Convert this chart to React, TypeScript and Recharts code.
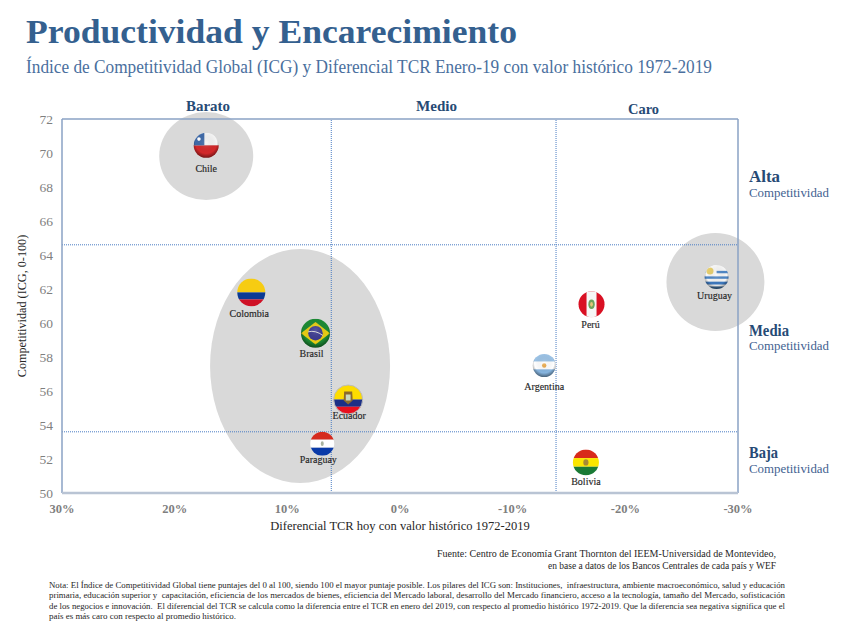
import React from 'react';
import { ScatterChart, Scatter, XAxis, YAxis } from 'recharts';

const countries = ['Chile', 'Colombia', 'Brasil', 'Ecuador', 'Paraguay', 'Argentina', 'Perú', 'Bolivia', 'Uruguay'];
const tcrValues = [17.2, 13.2, 7.5, 4.6, 6.9, -12.8, -17.0, -16.5, -28.1];
const icgValues = [70.45, 61.8, 59.4, 55.5, 52.9, 57.5, 61.1, 51.8, 62.7];

const groupNames = ['Chile', 'Grupo', 'Uruguay'];
const groupX = [17.2, 8.87, -28.0];
const groupY = [69.82, 57.47, 62.41];

const xTicks = [30, 20, 10, 0, -10, -20, -30];
const yTicks = [50, 52, 54, 56, 58, 60, 62, 64, 66, 68, 70, 72];
const tcrCuts = [6.1, -13.85];
const icgCuts = [64.6, 53.6];
const xEdges = [30, -30];
const yEdges = [50, 72];

const noteLines = [
  'Nota: El Índice de Competitividad Global tiene puntajes del 0 al 100, siendo 100 el mayor puntaje posible. Los pilares del ICG son: Instituciones,  infraestructura, ambiente macroeconómico, salud y educación',
  'primaria, educación superior y  capacitación, eficiencia de los mercados de bienes, eficiencia del Mercado laboral, desarrollo del Mercado financiero, acceso a la tecnología, tamaño del Mercado, sofisticación',
  'de los negocios e innovación.  El diferencial del TCR se calcula como la diferencia entre el TCR en enero del 2019, con respecto al promedio histórico 1972-2019. Que la diferencia sea negativa significa que el',
  'país es más caro con respecto al promedio histórico.',
];

const flagData = countries.map((name, i) => ({ name, x: tcrValues[i], y: icgValues[i] }));
const groupData = groupNames.map((name, i) => ({ name, x: groupX[i], y: groupY[i] }));
const verticalAt = (v: number) => yEdges.map((y) => ({ x: v, y }));
const horizontalAt = (v: number) => xEdges.map((x) => ({ x, y: v }));

const serif = '"Liberation Serif", serif';
const navy = '#264a75';
const blue = '#34608f';

const groupRadii: Record<string, [number, number]> = { Chile: [47, 44], Grupo: [90, 117], Uruguay: [49, 49] };

const GroupShape = (p: any) => {
  const [rx, ry] = groupRadii[p.payload.name];
  return <ellipse cx={p.cx} cy={p.cy} rx={rx} ry={ry} fill="#d9d9d9" />;
};
const NoPoint = () => <g />;

const flagStyle: Record<string, { r: number; lx: number; ly: number }> = {
  Chile: { r: 12.5, lx: 0, ly: 27 },
  Colombia: { r: 14, lx: -2, ly: 25 },
  Brasil: { r: 14.5, lx: -4, ly: 24 },
  Ecuador: { r: 14.5, lx: 1, ly: 19 },
  Paraguay: { r: 12, lx: -4, ly: 19 },
  Argentina: { r: 11.5, lx: 0, ly: 24 },
  'Perú': { r: 13, lx: -1, ly: 24 },
  Bolivia: { r: 13, lx: 0, ly: 23 },
  Uruguay: { r: 12, lx: -2, ly: 22 },
};

const band = (fill: string, y: number, h: number, k: number) => (
  <rect key={k} x={-20} y={y} width={40} height={h} fill={fill} />
);

const flagBody = (name: string, r: number) => {
  switch (name) {
    case 'Chile':
      return [
        band('#f4f4f4', -r, r, 0),
        band('#d3282a', 0, r, 1),
        <rect key="c" x={-r} y={-r} width={r * 0.85} height={r} fill="#3f6aa8" />,
        <circle key="s" cx={-r * 0.58} cy={-r * 0.5} r={1.8} fill="#fff" />,
      ];
    case 'Colombia':
      return [band('#f6cc12', -r, r, 0), band('#0b3a94', 0, r * 0.5, 1), band('#cf1126', r * 0.5, r * 0.5, 2)];
    case 'Brasil':
      return [
        band('#1c8a34', -r, 2 * r, 0),
        <polygon key="d" points={`${-r},0 0,${-r * 0.78} ${r},0 0,${r * 0.78}`} fill="#e8cc14" />,
        <circle key="c" r={r * 0.5} fill="#3c3a90" />,
        <path key="a" d={`M${-r * 0.5},${-r * 0.1} Q0,${-r * 0.22} ${r * 0.5},${r * 0.15}`} stroke="#ddd" strokeWidth={1} fill="none" />,
      ];
    case 'Ecuador':
      return [
        band('#fddc00', -r, r, 0),
        band('#1b2f86', 0, r * 0.5, 1),
        band('#e8101e', r * 0.5, r * 0.5, 2),
        <path key="e" d="M-4,-8 L4,-8 L4.5,1 L0,5 L-4.5,1 Z" fill="#8a6a2c" />,
        <rect key="e2" x={-2.4} y={-5} width={4.8} height={6} fill="#c9d8c0" />,
      ];
    case 'Paraguay':
      return [
        band('#d52b1e', -r, (2 * r) / 3, 0),
        band('#fff', -r / 3, (2 * r) / 3, 1),
        band('#0a3aa8', r / 3, (2 * r) / 3, 2),
        <ellipse key="e" rx={1.5} ry={2.4} fill="#a9b3a0" />,
      ];
    case 'Argentina':
      return [
        band('#9cc3e6', -r, (2 * r) / 3, 0),
        band('#fff', -r / 3, (2 * r) / 3, 1),
        band('#86b4de', r / 3, (2 * r) / 3, 2),
        <circle key="s" r={2.2} fill="#eaa94a" />,
      ];
    case 'Perú':
      return [
        band('#d91023', -r, 2 * r, 0),
        <rect key="w" x={-r / 2.6} y={-r} width={r / 1.3} height={2 * r} fill="#f6f6f6" />,
        <ellipse key="e" rx={3.2} ry={4.8} fill="#6fa35c" />,
        <ellipse key="e2" rx={1.4} ry={2.4} fill="#e3c87a" />,
      ];
    case 'Bolivia':
      return [
        band('#d82a1a', -r, (2 * r) / 3, 0),
        band('#fbe600', -r / 3, (2 * r) / 3, 1),
        band('#1a7a35', r / 3, (2 * r) / 3, 2),
        <ellipse key="e" rx={2.6} ry={3.2} fill="#a68a35" />,
      ];
    default:
      return [
        band('#f6f6f6', -r, 2 * r, 0),
        band('#4d86c6', -r * 0.52, r * 0.2, 1),
        band('#4d86c6', -r * 0.06, r * 0.2, 2),
        band('#3d78bd', r * 0.38, r * 0.24, 3),
        band('#3f6f9f', r * 0.78, r * 0.24, 4),
        <rect key="c" x={-r} y={-r} width={r} height={r * 0.9} fill="#f8f8f8" />,
        <circle key="s" cx={-r * 0.55} cy={-r * 0.5} r={3.5} fill="#e7cf6e" />,
      ];
  }
};

const glossy = ['Chile', 'Brasil', 'Uruguay', 'Argentina'];

const FlagShape = (p: any) => {
  const name: string = p.payload.name;
  const { r, lx, ly } = flagStyle[name];
  const id = 'clip-' + countries.indexOf(name);
  return (
    <g transform={`translate(${p.cx},${p.cy})`}>
      <clipPath id={id}><circle r={r} /></clipPath>
      <g clipPath={`url(#${id})`}>{flagBody(name, r)}</g>
      {glossy.includes(name) && <circle r={r} fill="url(#flagGloss)" />}
      {name === 'Ecuador' && <circle r={r} fill="none" stroke="#bdbdbd" strokeWidth={1} />}
      <text x={lx} y={ly} textAnchor="middle" fontFamily={serif} fontSize={10} fill="#262626" stroke="#262626" strokeWidth={0.15}>{name}</text>
    </g>
  );
};

const T = ({ x, y, w, size, fill, bold, children }: any) => (
  <text x={x} y={y} fontFamily={serif} fontSize={size} fill={fill} fontWeight={bold ? 700 : 400}
    textLength={w} lengthAdjust="spacingAndGlyphs" xmlSpace="preserve">{children}</text>
);

const cutLine = { stroke: '#4a7cc4', strokeWidth: 1, strokeDasharray: '1 1' };
const edgeLine = { stroke: '#8aa2c4', strokeWidth: 1.5 };
const baseLine = { stroke: '#b9c4d4', strokeWidth: 2.5 };

export default function App() {
  return (
    <div style={{ position: 'absolute', left: 0, top: 0, width: 847, height: 625, background: '#fff' }}>
      <ScatterChart width={847} height={625} margin={{ top: 119, right: 109, bottom: 102, left: 12 }}>
        <defs>
          <radialGradient id="flagGloss" cx="50%" cy="40%" r="60%">
            <stop offset="0%" stopColor="#fff" stopOpacity={0.15} />
            <stop offset="70%" stopColor="#000" stopOpacity={0} />
            <stop offset="100%" stopColor="#000" stopOpacity={0.45} />
          </radialGradient>
        </defs>
        <XAxis type="number" dataKey="x" domain={[-30, 30]} reversed ticks={xTicks} interval={0} height={30}
          tickFormatter={(v: number) => `${v}%`} axisLine={false} tickLine={false} tickMargin={5}
          tick={{ fontFamily: serif, fontSize: 12.5, fontWeight: 700, fill: '#7f7f7f' }}
          label={{ value: 'Diferencial TCR hoy con valor histórico 1972-2019', position: 'bottom', offset: 0, dy: -2, fontFamily: serif, fontSize: 12.5, fill: '#262626' }} />
        <YAxis type="number" dataKey="y" domain={[50, 72]} ticks={yTicks} interval={0} width={50}
          axisLine={false} tickLine={false} tickMargin={3}
          tick={{ fontFamily: serif, fontSize: 13.5, fill: '#7f7f7f' }}
          label={{ value: 'Competitividad (ICG, 0-100)', angle: -90, position: 'left', offset: 0, dx: 10, fontFamily: serif, fontSize: 12.2, fill: '#262626', style: { textAnchor: 'middle' } }} />
        <Scatter data={groupData} isAnimationActive={false} shape={GroupShape} />
        {tcrCuts.map((v) => (
          <Scatter key={'x' + v} data={verticalAt(v)} isAnimationActive={false} line={cutLine} shape={NoPoint} />
        ))}
        {icgCuts.map((v) => (
          <Scatter key={'y' + v} data={horizontalAt(v)} isAnimationActive={false} line={cutLine} shape={NoPoint} />
        ))}
        {xEdges.map((v) => (
          <Scatter key={'ex' + v} data={verticalAt(v)} isAnimationActive={false} line={edgeLine} shape={NoPoint} />
        ))}
        <Scatter data={horizontalAt(yEdges[1])} isAnimationActive={false} line={edgeLine} shape={NoPoint} />
        <Scatter data={horizontalAt(yEdges[0])} isAnimationActive={false} line={baseLine} shape={NoPoint} />
        <Scatter data={flagData} isAnimationActive={false} shape={FlagShape} />
      </ScatterChart>
      <svg width={847} height={625} style={{ position: 'absolute', left: 0, top: 0, pointerEvents: 'none' }}>
        <T x={26} y={43} w={491} size={34} fill={blue} bold>Productividad y Encarecimiento</T>
        <T x={26} y={73} w={686} size={18} fill="#4a6f9e">Índice de Competitividad Global (ICG) y Diferencial TCR Enero-19 con valor histórico 1972-2019</T>
        <T x={186} y={111} w={44} size={14} fill={navy} bold>Barato</T>
        <T x={416} y={111} w={41} size={14} fill={navy} bold>Medio</T>
        <T x={628} y={114} w={31} size={14} fill={navy} bold>Caro</T>
        <T x={749} y={182} w={31} size={16} fill={navy} bold>Alta</T>
        <T x={749} y={197} w={80} size={12} fill="#3f6291">Competitividad</T>
        <T x={749} y={336} w={40} size={16} fill={navy} bold>Media</T>
        <T x={749} y={350} w={80} size={12} fill="#3f6291">Competitividad</T>
        <T x={749} y={458} w={29} size={16} fill={navy} bold>Baja</T>
        <T x={749} y={473} w={80} size={12} fill="#3f6291">Competitividad</T>
        <T x={437} y={557} w={339} size={10} fill="#262626">Fuente: Centro de Economía Grant Thornton del IEEM-Universidad de Montevideo,</T>
        <T x={548} y={569} w={228} size={10} fill="#262626">en base a datos de los Bancos Centrales de cada país y WEF</T>
        {noteLines.map((line, i) => (
          <T key={i} x={49} y={588 + i * 10.4} w={i === 3 ? 187 : 736} size={9} fill="#262626">{line}</T>
        ))}
      </svg>
    </div>
  );
}
